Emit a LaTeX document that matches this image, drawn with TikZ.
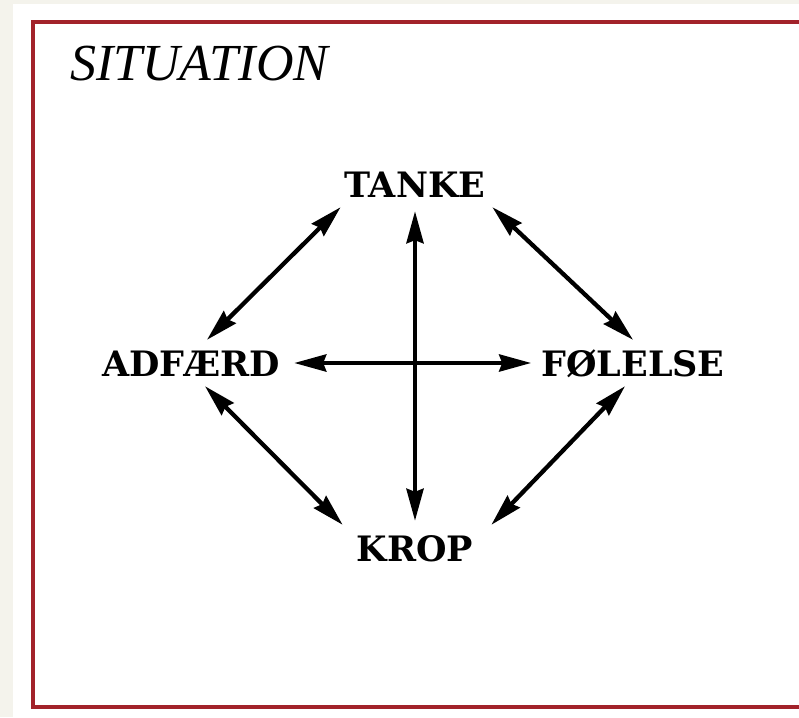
\documentclass[tikz,border=0pt]{standalone}
\usepackage{fontspec}
\setmainfont{DejaVu Serif}
\newfontfamily\sitfont{Liberation Serif}
\usetikzlibrary{arrows.meta}
\definecolor{kant}{HTML}{A2222A}
\definecolor{creme}{HTML}{F4F3EC}

\begin{document}
\begin{tikzpicture}[x=1pt, y=-1pt,
    ord/.style={font=\fontsize{35}{35}\selectfont\bfseries, inner sep=10pt, text height=26pt, text depth=0pt},
    pil/.style={line width=4.3pt, {Stealth[length=32pt,width=17pt,inset=3pt]}-{Stealth[length=32pt,width=17pt,inset=3pt]}}]
    % 1. Baggrund og ramme
    \useasboundingbox (0,0) rectangle (799,717);
    \clip (0,0) rectangle (799,717);
    \fill[creme] (0,0) rectangle (799,717);
    \fill[white] (13,4) rectangle (799,717);
    \draw[kant, line width=4pt] (33,22) rectangle (820,707);

    % 2. Overskrift
    \node[anchor=base west, font=\sitfont\itshape\fontsize{52}{52}\selectfont, inner sep=0pt] (sit) at (70,80) {SITUATION};

    % 3. De fire ord
    \node[ord] (tanke) at (415,184) {TANKE};
    \node[ord] (adf) at (191,363) {ADFÆRD};
    \node[ord] (fol) at (633,363) {FØLELSE};
    \node[ord] (krop) at (415,548) {KROP};

    % 4. Pile mellem ordene
    \draw[pil] ([xshift=16pt]adf.north) -- ([xshift=6pt]tanke.south west);
    \draw[pil] ([xshift=-3pt]tanke.south east) -- (fol.north);
    \draw[pil] ([xshift=14pt]adf.south) -- ([xshift=-4pt]krop.north west);
    \draw[pil] ([xshift=-8pt]fol.south) -- ([xshift=8pt]krop.north east);
    \draw[pil] ([yshift=-4pt]tanke.south) -- ([yshift=4pt]krop.north);
    \draw[pil] ([xshift=4pt]adf.east) -- (fol.west);
\end{tikzpicture}
\end{document}
